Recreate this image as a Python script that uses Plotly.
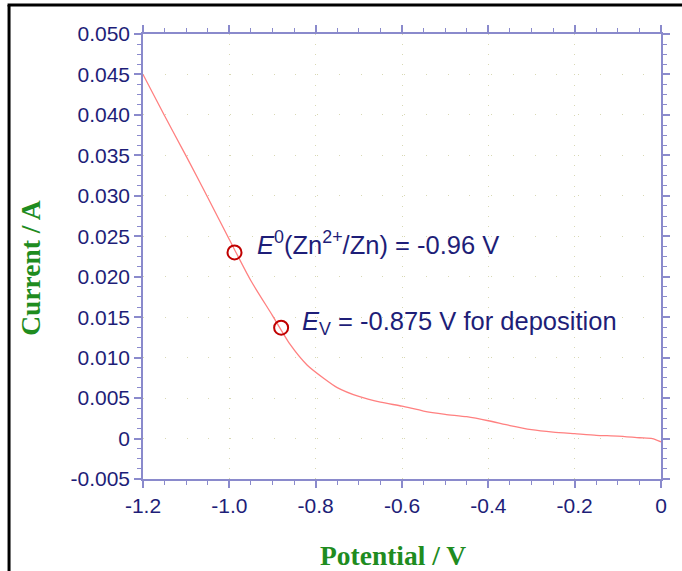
import plotly.graph_objects as go

# Curve data (potential in V, current in A)
potential = [-1.20, -1.15, -1.10, -1.05, -1.00, -0.95, -0.90, -0.86, -0.82, -0.78,
             -0.75, -0.70, -0.65, -0.60, -0.55, -0.50, -0.45, -0.40, -0.35, -0.30,
             -0.25, -0.20, -0.15, -0.10, -0.05, -0.02, 0.00]
current = [0.0450, 0.0399, 0.0349, 0.0298, 0.0246, 0.0195, 0.0152, 0.0117, 0.0091, 0.0074,
           0.0063, 0.0052, 0.0045, 0.0040, 0.0034, 0.0030, 0.0027, 0.0022, 0.0016, 0.0011,
           0.0008, 0.0006, 0.0004, 0.0003, 0.0001, 0.0000, -0.0004]

# Marked points
mark_potential = [-0.988, -0.880]
mark_current = [0.0230, 0.0137]

# Tick labels
x_tickvals = [-1.2, -1.0, -0.8, -0.6, -0.4, -0.2, 0.0]
x_ticktext = ["-1.2", "-1.0", "-0.8", "-0.6", "-0.4", "-0.2", "0"]
y_tickvals = [0.050, 0.045, 0.040, 0.035, 0.030, 0.025, 0.020, 0.015, 0.010, 0.005, 0.0, -0.005]
y_ticktext = ["0.050", "0.045", "0.040", "0.035", "0.030", "0.025", "0.020", "0.015",
              "0.010", "0.005", "0", "-0.005"]

label1 = "<i>E</i><sup>0</sup>(Zn<sup>2+</sup>/Zn) = -0.96 V"
label2 = "<i>E</i><sub>V</sub> = -0.875 V for deposition"
x_title = "Potential / V"
y_title = "Current / A"

navy = "#1e1e78"
axis_col = "#8a8acc"
grid_col = "#d8d8b4"
green = "#1f8c1f"

fig = go.Figure()
fig.add_trace(go.Scatter(x=potential, y=current, mode="lines",
                         line=dict(color="#ff8080", width=1.3, shape="spline", smoothing=0.6),
                         showlegend=False, hoverinfo="skip"))
fig.add_trace(go.Scatter(x=mark_potential, y=mark_current, mode="markers",
                         marker=dict(symbol="circle-open", size=14, color="#c00000",
                                     line=dict(width=2, color="#c00000")),
                         showlegend=False))

axis_common = dict(showline=True, linecolor=axis_col, linewidth=1.5, mirror="ticks",
                   ticks="outside", ticklen=7, tickcolor=axis_col, tickwidth=1.5,
                   zeroline=False, showgrid=True, gridcolor=grid_col, gridwidth=1,
                   tickfont=dict(family="Liberation Sans, Arial", size=21, color=navy))

fig.update_xaxes(range=[-1.2, 0.0], tickvals=x_tickvals, ticktext=x_ticktext,
                 griddash="1px,9.1px",
                 minor=dict(dtick=0.05, ticks="outside", ticklen=4, tickcolor=axis_col,
                            tickwidth=1.2, showgrid=False),
                 **axis_common)
fig.update_yaxes(range=[-0.005, 0.050], tickvals=y_tickvals, ticktext=y_ticktext,
                 griddash="1px,20.75px",
                 minor=dict(dtick=0.00125, tick0=0, ticks="outside", ticklen=4, tickcolor=axis_col,
                            tickwidth=1.2, showgrid=False),
                 **axis_common)

ann_font = dict(family="Liberation Sans, Arial", size=25.5, color=navy)
title_font = dict(family="Liberation Serif, Times New Roman", size=27.5, color=green)
fig.update_layout(
    width=682, height=571,
    margin=dict(l=143, r=17, t=34, b=92),
    paper_bgcolor="white", plot_bgcolor="white",
    annotations=[
        dict(x=-0.940, y=0.0242, xref="x", yref="y", text=label1, showarrow=False,
             xanchor="left", yanchor="middle", font=ann_font),
        dict(x=-0.836, y=0.0143, xref="x", yref="y", text=label2, showarrow=False,
             xanchor="left", yanchor="middle", font=ann_font),
        dict(x=0.483, y=-0.172, xref="paper", yref="paper", text="<b>" + x_title + "</b>",
             showarrow=False, xanchor="center", yanchor="middle", font=title_font),
        dict(x=-0.216, y=0.475, xref="paper", yref="paper", text="<b>" + y_title + "</b>",
             showarrow=False, xanchor="center", yanchor="middle", textangle=-90, font=title_font),
    ],
    shapes=[
        dict(type="line", xref="paper", yref="paper", x0=-0.2586, x1=-0.2586, y0=-0.3,
             y1=1.0652, line=dict(color="black", width=3)),
        dict(type="line", xref="paper", yref="paper", x0=-0.2615, x1=1.2, y0=1.0652,
             y1=1.0652, line=dict(color="black", width=3)),
    ],
)

fig.write_html("out.html")
